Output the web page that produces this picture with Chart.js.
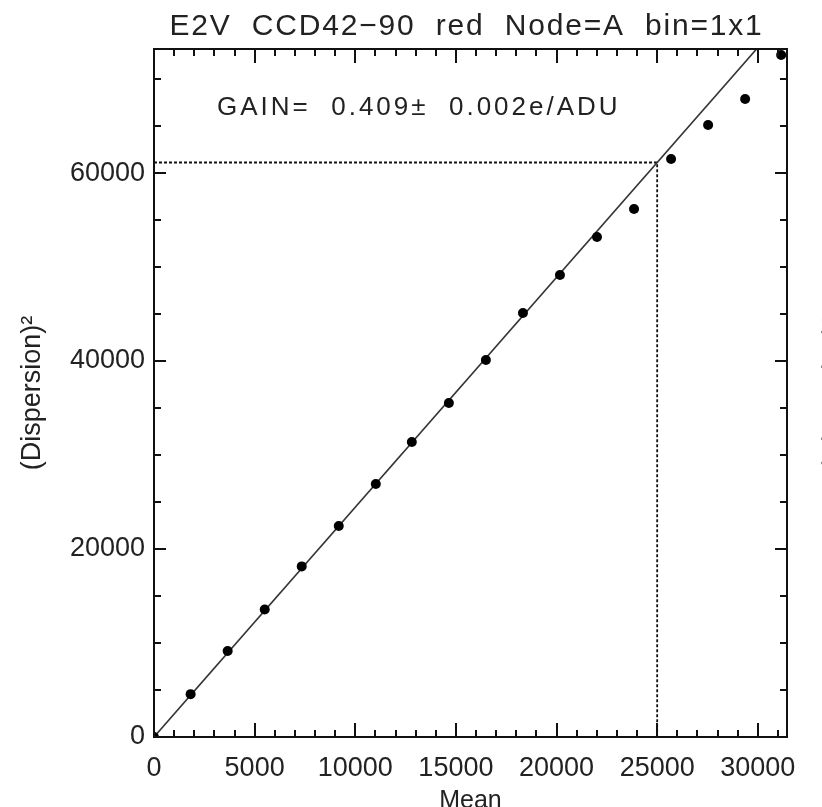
<!DOCTYPE html>
<html>
<head>
<meta charset="utf-8">
<script src="https://cdn.jsdelivr.net/npm/chart.js@4.4.1/dist/chart.umd.min.js"></script>
<style>
  html, body { margin: 0; padding: 0; background: #fff; }
  #wrap { width: 822px; height: 807px; }
</style>
</head>
<body>
<div id="wrap"><canvas id="ptc" width="822" height="807"></canvas></div>
<script>
// photon transfer curve: mean signal vs variance, in ADU
const meanADU = [0, 1820, 3660, 5500, 7340, 9180, 11020, 12810, 14650, 16490, 18330, 20170, 22010, 23850, 25690, 27530, 29370, 31160];
const dispersionSq = [0, 4560, 9150, 13560, 18150, 22450, 26920, 31390, 35540, 40110, 45110, 49160, 53200, 56180, 61500, 65120, 67880, 72560];
const xTicks = [0, 5000, 10000, 15000, 20000, 25000, 30000];
const yTicks = [0, 20000, 40000, 60000];
const gain = 0.409;
const gainErr = 0.002;
const refMean = 25000;
const xMax = 31450, yMax = 73200;

const FONT = '"Liberation Sans", Arial, Helvetica, sans-serif';
const INK = '#222';

Chart.defaults.font.family = FONT;
Chart.defaults.color = INK;

// frame on all four sides, with inward tick marks like an IDL plot
const frameTicks = {
  id: 'frameTicks',
  afterDatasetsDraw(chart) {
    const { ctx, chartArea: a, scales: { x, y } } = chart;
    ctx.save();
    ctx.strokeStyle = '#111';
    ctx.lineWidth = 2;
    ctx.beginPath();
    for (let v = 0; v <= xMax; v += 1000) {
      const px = Math.round(x.getPixelForValue(v));
      const len = v % 5000 === 0 ? 14 : 7;
      ctx.moveTo(px, a.bottom); ctx.lineTo(px, a.bottom - len);
      ctx.moveTo(px, a.top); ctx.lineTo(px, a.top + len);
    }
    for (let v = 0; v <= yMax; v += 5000) {
      const py = Math.round(y.getPixelForValue(v));
      const len = v % 20000 === 0 ? 12 : 7;
      ctx.moveTo(a.left, py); ctx.lineTo(a.left + len, py);
      ctx.moveTo(a.right, py); ctx.lineTo(a.right - len, py);
    }
    ctx.stroke();
    ctx.strokeRect(a.left, a.top, a.right - a.left, a.bottom - a.top);
    ctx.restore();
  }
};

// title, gain annotation and the clipped label of the next panel
const labels = {
  id: 'labels',
  afterDraw(chart) {
    const { ctx, chartArea: a } = chart;
    ctx.save();
    ctx.fillStyle = INK;
    ctx.textBaseline = 'alphabetic';

    ctx.font = '30px ' + FONT;
    ctx.letterSpacing = '1.8px';
    ctx.textAlign = 'center';
    ctx.fillText('E2V  CCD42\u221290  red  Node=A  bin=1x1', (a.left + a.right) / 2 - 4, 35);

    ctx.font = '26px ' + FONT;
    ctx.letterSpacing = '3px';
    ctx.textAlign = 'left';
    ctx.fillText('GAIN=  ' + gain.toFixed(3) + '\u00b1  ' + gainErr.toFixed(3) + 'e/ADU', 217, 115);

    ctx.letterSpacing = '0px';
    ctx.font = '27px ' + FONT;
    ctx.fillStyle = '#888';
    ctx.translate(834, (a.top + a.bottom) / 2);
    ctx.rotate(-Math.PI / 2);
    ctx.textAlign = 'center';
    ctx.textBaseline = 'middle';
    ctx.fillText('(Dispersion)\u00b2', 0, 0);
    ctx.restore();
  }
};

new Chart(document.getElementById('ptc'), {
  type: 'scatter',
  data: {
    datasets: [
      {
        label: 'data',
        data: meanADU.map((m, i) => ({ x: m, y: dispersionSq[i] })),
        pointRadius: 5,
        pointBackgroundColor: '#000',
        pointBorderWidth: 0,
        clip: 0,
        order: 1
      },
      {
        label: 'fit',
        type: 'line',
        data: [{ x: 0, y: 0 }, { x: xMax, y: xMax / gain }],
        borderColor: '#333',
        borderWidth: 1.6,
        pointRadius: 0,
        clip: 0,
        order: 2
      },
      {
        label: 'ref',
        type: 'line',
        data: [{ x: 0, y: refMean / gain }, { x: refMean, y: refMean / gain }, { x: refMean, y: 0 }],
        borderColor: '#111',
        borderWidth: 1.8,
        borderDash: [3, 2],
        pointRadius: 0,
        clip: 0,
        order: 3
      }
    ]
  },
  options: {
    responsive: false,
    animation: false,
    devicePixelRatio: 1,
    layout: { padding: { left: 0, right: 35, top: 49, bottom: 0 } },
    plugins: { legend: { display: false }, tooltip: { enabled: false }, title: { display: false } },
    scales: {
      x: {
        type: 'linear',
        min: 0,
        max: xMax,
        afterFit: s => { s.height = 70; },
        afterBuildTicks: s => { s.ticks = xTicks.map(v => ({ value: v })); },
        grid: { display: false, drawTicks: false },
        border: { display: false },
        ticks: { font: { size: 27 }, color: INK, padding: 15, maxRotation: 0, autoSkip: false, callback: v => String(v) },
        title: { display: true, text: 'Mean', font: { size: 25 }, color: INK, padding: { top: 0, bottom: -9 } }
      },
      y: {
        type: 'linear',
        min: 0,
        max: yMax,
        afterFit: s => { s.width = 154; },
        afterBuildTicks: s => { s.ticks = yTicks.map(v => ({ value: v })); },
        grid: { display: false, drawTicks: false },
        border: { display: false },
        ticks: { font: { size: 27 }, color: INK, padding: 9, autoSkip: false, callback: v => String(v) },
        title: { display: true, text: '(Dispersion)\u00b2', font: { size: 27 }, color: INK, padding: { top: 16, bottom: 0 } }
      }
    }
  },
  plugins: [frameTicks, labels]
});
</script>
</body>
</html>
